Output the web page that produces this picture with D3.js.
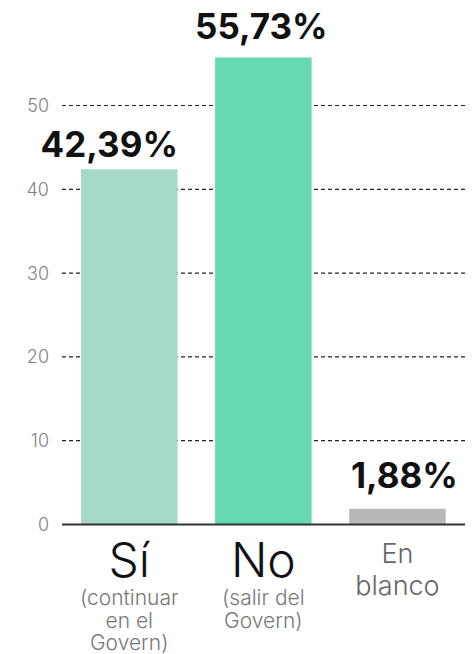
<!DOCTYPE html>
<html>
<head>
<meta charset="utf-8">
<script src="https://cdn.jsdelivr.net/npm/d3@7"></script>
<style>
  body { margin: 0; background: #fff; }
  svg { font-family: Inter, "Noto Sans", sans-serif; }
</style>
</head>
<body>
<svg width="473" height="654"></svg>
<script>
const categories = ['Sí', 'No', 'En blanco'];
const values = [42.39, 55.73, 1.88];
const valueLabels = ['42,39%', '55,73%', '1,88%'];
const subLabels = [['(continuar', 'en el', 'Govern)'], ['(salir del', 'Govern)'], []];
const ticks = [0, 10, 20, 30, 40, 50];
const colors = ['#a6dac8', '#66d9b3', '#b8b8b8'];

const svg = d3.select('svg');

const y = d3.scaleLinear().domain([0, 50]).range([524.5, 105.5]);
const x = d3.scaleBand().domain(categories).range([81, 445.7]).paddingInner(0.28).paddingOuter(0);

// hand-placed value labels in the original, nudged off the bar centre
const labelDx = [-20, -2, 7];
const labelDy = [-12, -18, -21];

// grid
const grid = svg.append('g').attr('class', 'grid');
grid.selectAll('line')
  .data(ticks.filter(t => t > 0))
  .enter()
  .append('line')
  .attr('x1', 62)
  .attr('x2', 465)
  .attr('y1', d => y(d))
  .attr('y2', d => y(d))
  .attr('stroke', '#222')
  .attr('stroke-width', 1.2)
  .attr('stroke-dasharray', '4,3');

grid.selectAll('text')
  .data(ticks)
  .enter()
  .append('text')
  .attr('x', 49)
  .attr('y', d => y(d))
  .attr('dy', '0.36em')
  .attr('text-anchor', 'end')
  .attr('font-size', 18)
  .attr('font-weight', 300)
  .attr('fill', '#808080')
  .text(d => d);

// bars
svg.append('g')
  .selectAll('rect')
  .data(categories)
  .enter()
  .append('rect')
  .attr('x', d => x(d))
  .attr('width', x.bandwidth())
  .attr('y', (d, i) => y(values[i]))
  .attr('height', (d, i) => y(0) - y(values[i]))
  .attr('fill', (d, i) => colors[i]);

// baseline
svg.append('line')
  .attr('x1', 62)
  .attr('x2', 465)
  .attr('y1', y(0))
  .attr('y2', y(0))
  .attr('stroke', '#333')
  .attr('stroke-width', 2);

// value labels
svg.append('g')
  .selectAll('text')
  .data(categories)
  .enter()
  .append('text')
  .attr('x', (d, i) => x(d) + x.bandwidth() / 2 + labelDx[i])
  .attr('y', (d, i) => y(values[i]) + labelDy[i])
  .attr('text-anchor', 'middle')
  .attr('font-size', 35)
  .attr('font-weight', 700)
  .attr('fill', '#111')
  .text((d, i) => valueLabels[i]);

// category labels
const cat = svg.append('g')
  .selectAll('g')
  .data(categories)
  .enter()
  .append('g')
  .attr('transform', d => `translate(${x(d) + x.bandwidth() / 2}, 0)`);

cat.filter((d, i) => i < 2)
  .append('text')
  .attr('y', 577)
  .attr('text-anchor', 'middle')
  .attr('font-size', 48)
  .attr('font-weight', 300)
  .attr('fill', '#111')
  .text(d => d);

cat.filter((d, i) => i < 2)
  .each(function (d, i) {
    d3.select(this)
      .selectAll('text.sub')
      .data(subLabels[i])
      .enter()
      .append('text')
      .attr('class', 'sub')
      .attr('y', (s, j) => 605 + j * 22.5)
      .attr('text-anchor', 'middle')
      .attr('font-size', 21)
      .attr('font-weight', 300)
      .attr('fill', '#777')
      .text(s => s);
  });

cat.filter((d, i) => i === 2)
  .selectAll('text')
  .data(d => d.split(' '))
  .enter()
  .append('text')
  .attr('y', (s, j) => 563 + j * 32)
  .attr('text-anchor', 'middle')
  .attr('font-size', 27)
  .attr('font-weight', 300)
  .attr('fill', '#666')
  .text(s => s);
</script>
</body>
</html>
